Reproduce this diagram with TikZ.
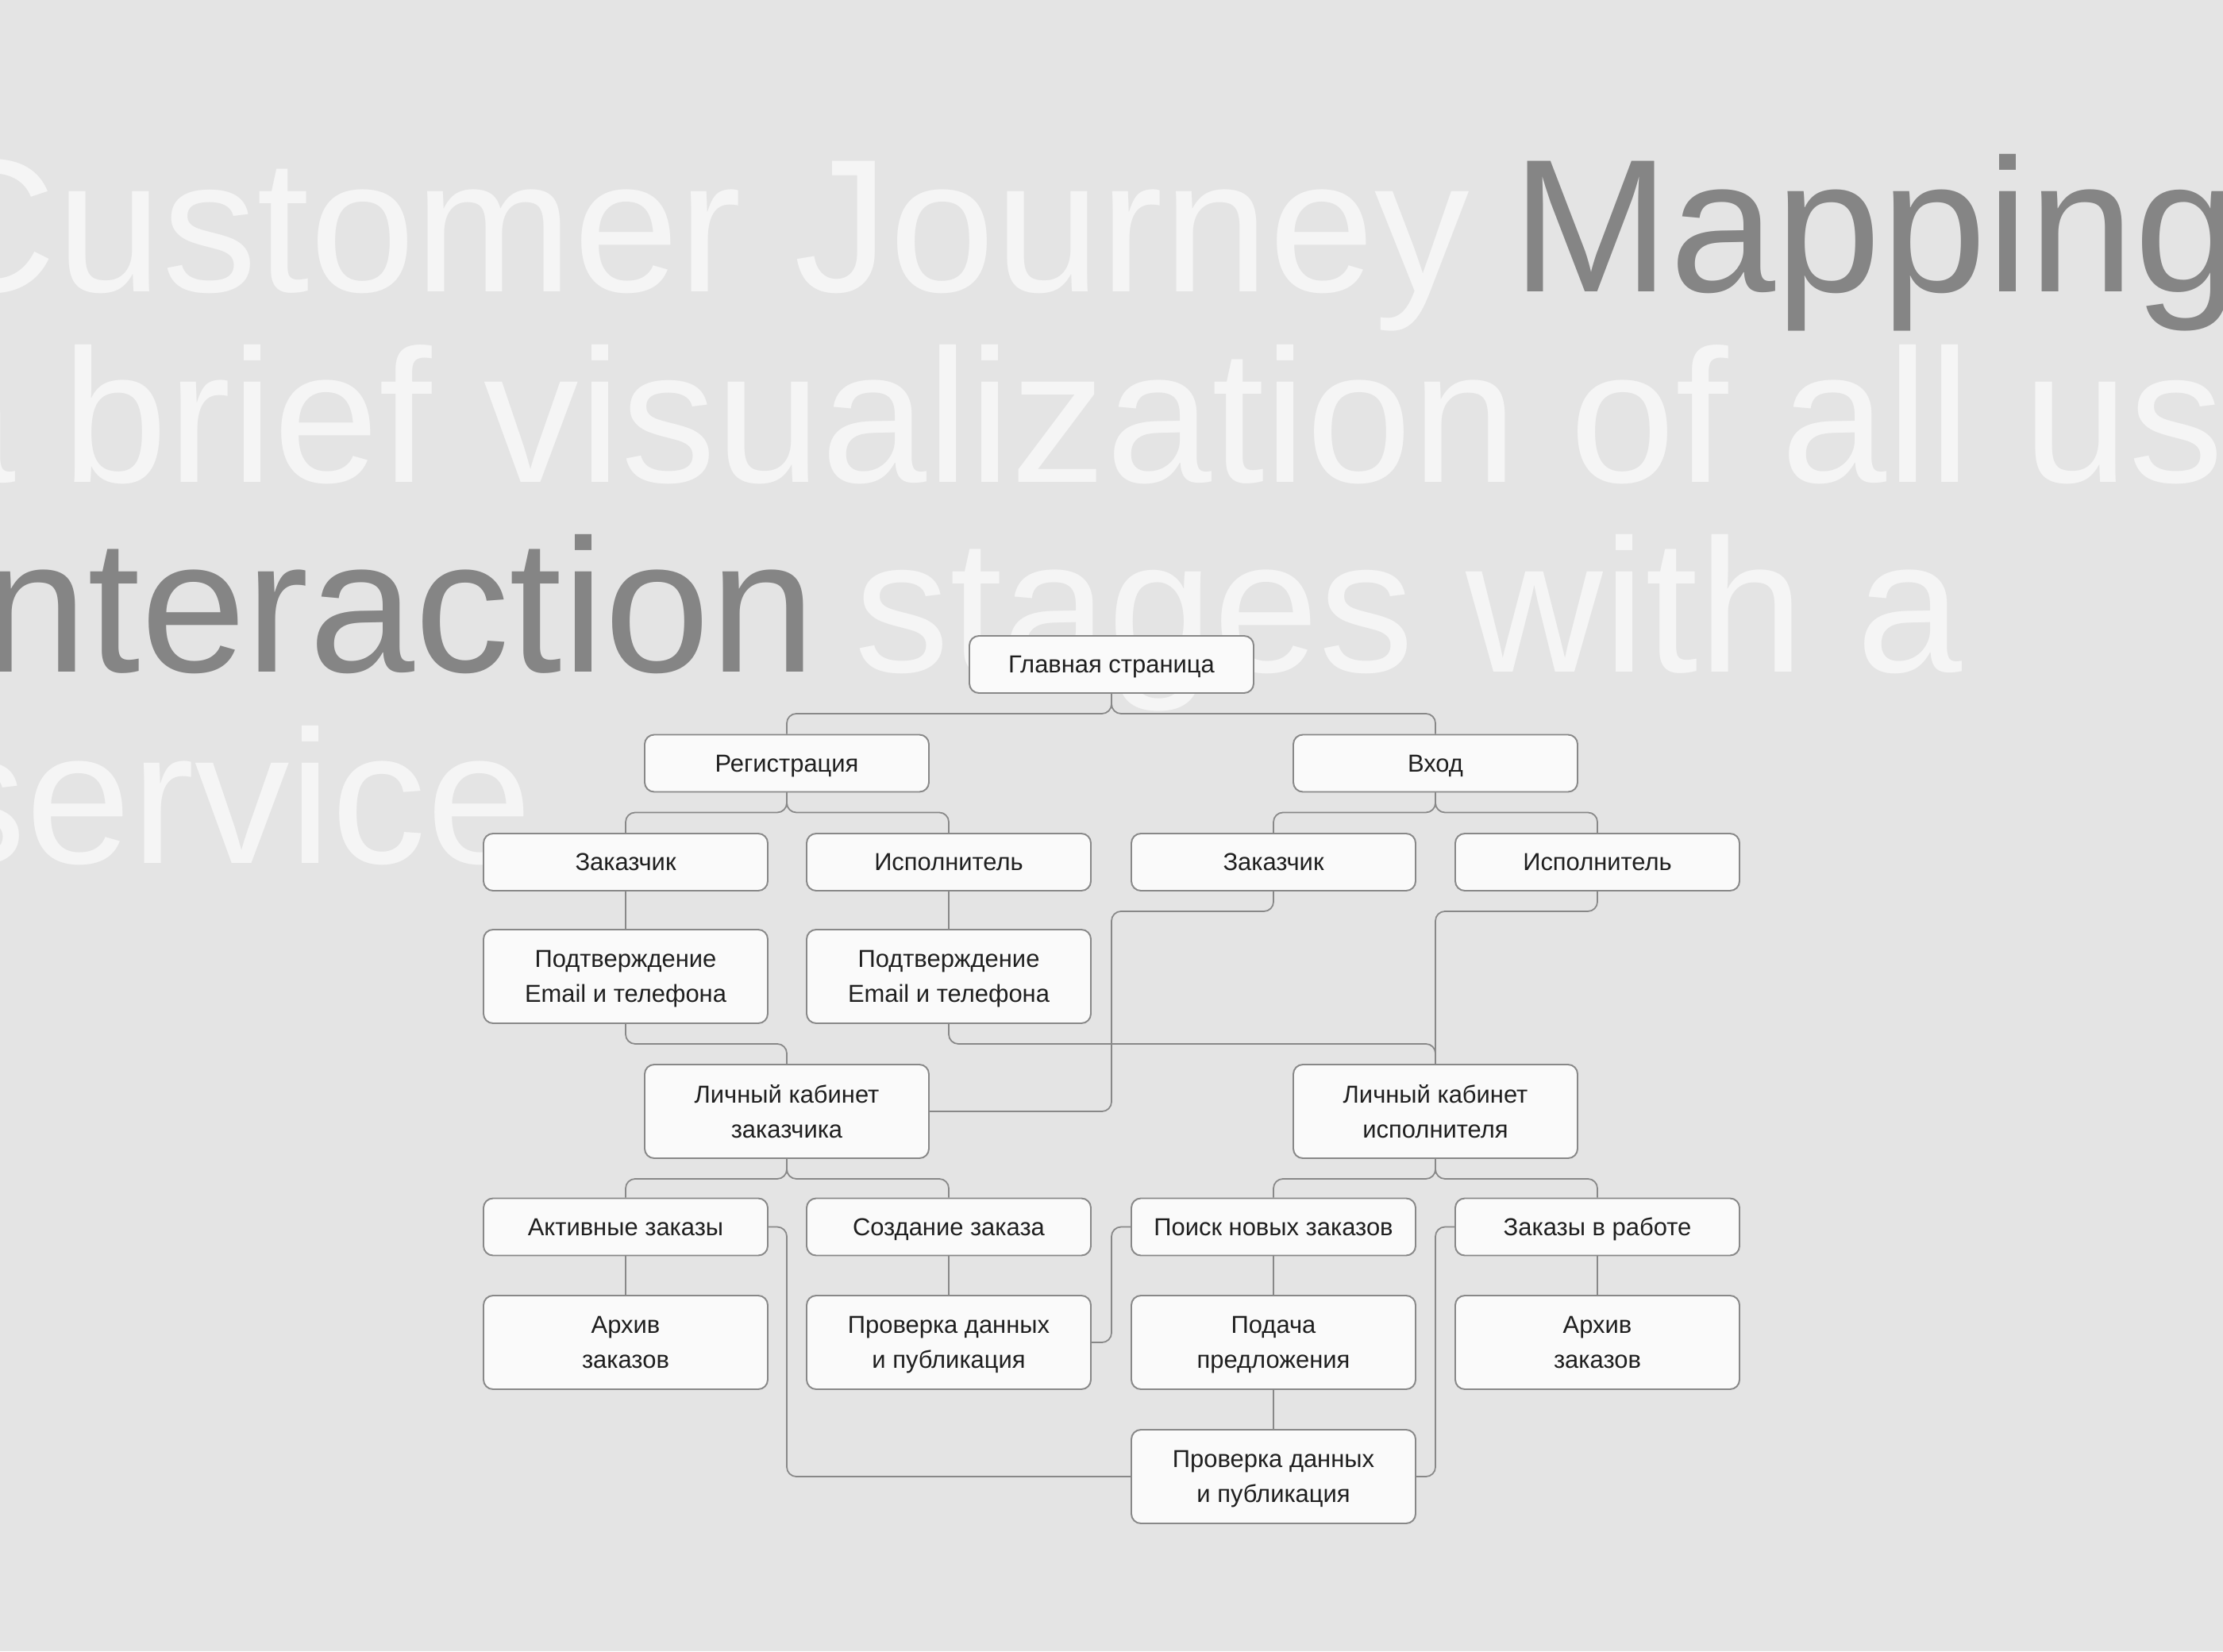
\documentclass[tikz,border=0pt]{standalone}
\usepackage{fontspec}
\setmainfont{Liberation Sans}
\usepackage{xcolor}

\definecolor{bg}{HTML}{E4E4E4}
\definecolor{light}{HTML}{F5F5F5}
\definecolor{dark}{HTML}{858585}
\definecolor{edgegray}{HTML}{888888}
\definecolor{boxfill}{HTML}{FAFAFA}

\begin{document}
\begin{tikzpicture}[main/.style = {draw=edgegray, fill=boxfill, rounded corners=0.12cm, line width=0.55pt, minimum width=3.58cm, minimum height=0.72cm, align=center, text depth=0pt, text=black!88, font=\fontsize{8.8}{12.6}\selectfont},
    tall/.style = {main, minimum height=1.18cm},
    link/.style = {draw=edgegray, line width=0.5pt, rounded corners=0.12cm},
    big/.style = {inner sep=0pt, font=\fontsize{68}{80}\selectfont}]
      \useasboundingbox (0,0) rectangle (28,20.8);
      \fill[bg] (0,0) rectangle (28,20.8);
      \clip (0,0) rectangle (28,20.8);

      % title behind the map
      \node[big, text=light, anchor=base east] (t1) at (18.52,17.12) {Customer Journey};
      \node[big, text=dark, anchor=base west] (t2) at (19.04,17.12) {Mapping};
      \node[big, text=light, anchor=base east] (t3) at (0.2,14.72) {a};
      \node[big, text=light, anchor=base west] (t4) at (0.78,14.72) {brief visualization of all user};
      \node[big, text=dark, anchor=base east] (t5) at (10.28,12.33) {interaction};
      \node[big, text=light, anchor=base west] (t6) at (10.76,12.33) {stages with a};
      \node[big, text=light, anchor=base east] (t7) at (6.71,9.925) {service};

      \node[main] (1) at (14.0,12.43) {Главная страница};
      \node[main] (2) at (9.91,11.185) {Регистрация};
      \node[main] (3) at (18.08,11.185) {Вход};
      \node[main] (4) at (7.88,9.94) {Заказчик};
      \node[main] (5) at (11.95,9.94) {Исполнитель};
      \node[main] (6) at (16.04,9.94) {Заказчик};
      \node[main] (7) at (20.12,9.94) {Исполнитель};
      \node[tall] (8) at (7.88,8.50) {Подтверждение\\Email и телефона};
      \node[tall] (9) at (11.95,8.50) {Подтверждение\\Email и телефона};
      \node[tall] (10) at (9.91,6.80) {Личный кабинет\\заказчика};
      \node[tall] (11) at (18.08,6.80) {Личный кабинет\\исполнителя};
      \node[main] (12) at (7.88,5.345) {Активные заказы};
      \node[main] (13) at (11.95,5.345) {Создание заказа};
      \node[main] (14) at (16.04,5.345) {Поиск новых заказов};
      \node[main] (15) at (20.12,5.345) {Заказы в работе};
      \node[tall] (16) at (7.88,3.89) {Архив\\заказов};
      \node[tall] (17) at (11.95,3.89) {Проверка данных\\и публикация};
      \node[tall] (18) at (16.04,3.89) {Подача\\предложения};
      \node[tall] (19) at (20.12,3.89) {Архив\\заказов};
      \node[tall] (20) at (16.04,2.20) {Проверка данных\\и публикация};

      % forks
      \draw[link] (1.south) -- ++(0,-0.25) -| (2.north);
      \draw[link] (1.south) -- ++(0,-0.25) -| (3.north);
      \draw[link] (2.south) -- ++(0,-0.25) -| (4.north);
      \draw[link] (2.south) -- ++(0,-0.25) -| (5.north);
      \draw[link] (3.south) -- ++(0,-0.25) -| (6.north);
      \draw[link] (3.south) -- ++(0,-0.25) -| (7.north);
      \draw[link] (10.south) -- ++(0,-0.25) -| (12.north);
      \draw[link] (10.south) -- ++(0,-0.25) -| (13.north);
      \draw[link] (11.south) -- ++(0,-0.25) -| (14.north);
      \draw[link] (11.south) -- ++(0,-0.25) -| (15.north);

      % into the accounts
      \draw[link] (8.south) -- ++(0,-0.25) -| (10.north);
      \draw[link] (9.south) -- ++(0,-0.25) -| (11.north);
      \draw[link] (7.south) -- ++(0,-0.25) -| (11.north);
      \draw[link] (6.south) -- ++(0,-0.25) -| (1 |- 10.east) -- (10.east);

      % side links
      \draw[link] (12.east) -| (10 |- 20.west) -- (20.west);
      \draw[link] (17.east) -| (1 |- 14.west) -- (14.west);
      \draw[link] (15.west) -| (11 |- 20.east) -- (20.east);

      \path[link, rounded corners=0pt]
      (4) edge (8)
      (5) edge (9)
      (12) edge (16)
      (13) edge (17)
      (14) edge (18)
      (15) edge (19)
      (18) edge (20);
    \end{tikzpicture}
\end{document}
